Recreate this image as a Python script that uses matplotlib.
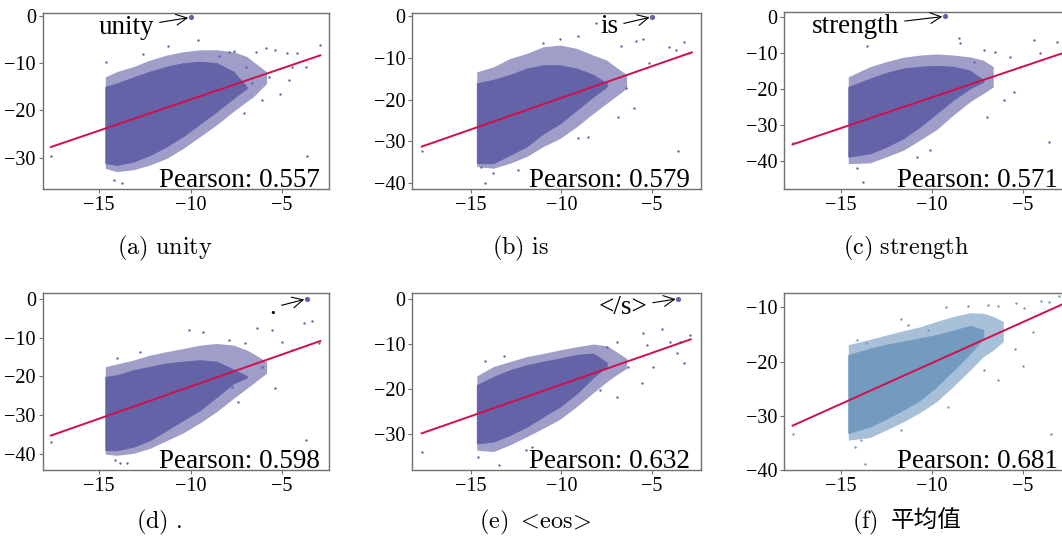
import matplotlib
matplotlib.use('Agg')
import matplotlib.pyplot as plt

plt.rcParams['font.family'] = ['Liberation Serif', 'Noto Sans CJK SC', 'DejaVu Sans']
plt.rcParams['mathtext.fontset'] = 'cm'

# ---------------- data ----------------
labels = ['(a)', '(b)', '(c)', '(d)', '(e)', '(f)']
captions = ['unity', 'is', 'strength', '.', r'<\!eos\!>', '平均值']
tokens = ['unity', 'is', 'strength', '.', '</s>', None]
pearson = [0.557, 0.579, 0.571, 0.598, 0.632, 0.681]

# highlighted token point and annotation text anchor (right end, baseline)
token_xy = [(-9.98, -0.35), (-4.98, -0.24), (-9.28, 0.1), (-3.64, 0.05), (-3.54, 0.07), None]
token_text_xy = [(-11.99, -3.9), (-6.86, -4.2), (-11.79, -4.6), (-5.33, -3.9), (-5.26, -3.3), None]

# regression line end points
line_x = [[-17.63, -2.91], [-17.72, -2.80], [-17.63, -2.85],
          [-17.63, -2.91], [-17.72, -2.86], [-17.63, -2.85]]
line_y = [[-27.7, -8.36], [-31.24, -8.74], [-35.3, -10.1],
          [-35.3, -10.86], [-29.85, -8.96], [-31.82, -9.45]]

# dense core of each cloud
core_x = [
    [-14.66, -14.04, -13.13, -12.22, -11.31, -10.40, -9.48, -8.57, -7.66, -6.93],
    [-14.68, -13.76, -12.84, -11.92, -11.00, -10.08, -9.16, -8.24, -7.50],
    [-14.58, -13.39, -12.48, -11.56, -10.65, -9.74, -8.83, -7.91, -7.18],
    [-14.66, -14.04, -13.13, -12.22, -11.31, -10.40, -9.48, -8.57, -7.66, -6.93],
    [-14.68, -13.76, -12.84, -11.92, -11.00, -10.08, -9.16, -8.24, -7.50],
    [-14.58, -13.39, -12.48, -11.56, -10.65, -9.74, -8.83, -7.91, -7.18],
]
core_top = [
    [-15.0, -14.3, -13.0, -11.8, -10.75, -10.0, -9.7, -10.0, -11.8, -15.0],
    [-16.1, -15.3, -14.1, -12.6, -11.8, -11.8, -12.6, -14.1, -16.1],
    [-19.4, -17.1, -15.5, -14.3, -13.8, -13.6, -13.8, -14.9, -17.5],
    [-20.1, -19.7, -18.4, -17.5, -16.6, -16.2, -15.8, -16.2, -18.2, -19.9],
    [-19.1, -17.3, -15.8, -14.7, -13.9, -13.2, -12.4, -12.1, -14.1],
    [-18.8, -17.6, -16.9, -16.3, -15.7, -15.1, -14.3, -13.4, -14.2],
]
core_bot = [
    [-31.1, -31.5, -30.8, -29.4, -27.6, -25.4, -22.8, -20.2, -17.4, -15.3],
    [-35.2, -35.2, -33.2, -31.2, -28.1, -25.7, -22.5, -19.3, -16.9],
    [-38.7, -37.8, -35.9, -33.6, -30.4, -26.7, -23.0, -19.8, -18.0],
    [-39.1, -39.1, -38.2, -36.5, -33.9, -31.3, -28.7, -25.3, -21.8, -20.3],
    [-32.1, -31.7, -30.2, -28.4, -26.1, -23.9, -21.0, -17.4, -15.0],
    [-33.2, -32.0, -30.5, -28.9, -27.1, -24.6, -21.6, -18.5, -15.7],
]

# sparser halo around each core
halo_x = [
    [-14.66, -14.04, -13.13, -12.22, -11.31, -10.40, -9.48, -8.57, -7.66, -6.93, -6.57, -5.85],
    [-14.68, -13.76, -12.84, -11.92, -11.00, -10.08, -9.16, -8.24, -7.50, -7.13, -6.40],
    [-14.58, -13.39, -12.48, -11.56, -10.65, -9.74, -8.83, -7.91, -7.18, -6.64],
    [-14.66, -14.04, -13.13, -12.22, -11.31, -10.40, -9.48, -8.57, -7.66, -6.93, -6.57, -5.85],
    [-14.68, -13.76, -12.84, -11.92, -11.00, -10.08, -9.16, -8.24, -7.50, -7.13, -6.40],
    [-14.58, -13.39, -12.48, -11.56, -10.65, -9.74, -8.83, -7.91, -7.18, -6.64, -6.09],
]
halo_top = [
    [-12.9, -11.8, -10.75, -9.35, -8.3, -7.6, -7.2, -7.2, -7.6, -8.6, -9.7, -11.8],
    [-13.4, -12.2, -10.2, -9.0, -7.4, -7.0, -7.8, -9.4, -10.6, -11.8, -14.1],
    [-16.6, -13.8, -12.4, -11.2, -10.6, -10.3, -10.6, -11.1, -12.0, -13.8],
    [-17.5, -16.8, -15.8, -14.5, -13.6, -12.8, -11.9, -11.5, -11.9, -13.2, -14.1, -16.2],
    [-17.1, -15.0, -13.9, -12.8, -12.1, -11.3, -10.6, -10.0, -10.4, -11.3, -13.2],
    [-16.9, -15.9, -15.1, -14.3, -13.6, -12.6, -11.7, -11.0, -11.1, -11.7, -12.6],
]
halo_bot = [
    [-32.2, -32.9, -32.5, -31.5, -30.1, -28.0, -25.5, -23.0, -20.2, -18.1, -17.1, -14.3],
    [-36.0, -36.4, -35.2, -33.6, -31.2, -29.3, -26.5, -23.3, -20.9, -19.7, -17.3],
    [-40.6, -40.4, -38.7, -36.9, -34.1, -31.2, -27.2, -23.5, -21.2, -19.4],
    [-40.1, -40.4, -39.9, -38.6, -36.6, -34.6, -32.0, -29.1, -25.7, -23.1, -21.8, -19.2],
    [-33.6, -33.9, -32.4, -30.6, -28.7, -26.7, -23.9, -20.8, -18.4, -17.3, -15.4],
    [-34.5, -34.0, -32.6, -31.1, -29.4, -27.4, -24.6, -21.6, -19.1, -17.9, -16.3],
]

# scattered outlying points
out_x = [
    [-17.63, -14.63, -12.59, -11.26, -9.57, -7.63, -6.45, -5.90, -5.36, -4.72, -4.17, -3.72, -2.93,
     -4.63, -5.12, -6.08, -7.08, -6.63, -6.99, -5.71, -13.75, -14.21, -3.66, -8.45, -7.90, -4.45],
    [-17.73, -14.22, -13.80, -14.46, -12.40, -11.00, -10.09, -9.08, -8.07, -6.72, -5.89, -5.52, -5.16,
     -4.05, -3.68, -3.22, -2.95, -3.59, -5.98, -6.90, -6.44, -7.64, -8.56, -9.11],
    [-17.63, -13.57, -13.75, -14.11, -10.82, -10.09, -8.54, -8.45, -6.99, -6.07, -5.52, -4.43, -4.06,
     -3.61, -3.15, -6.53, -5.71, -5.16, -7.17, -7.72],
    [-17.63, -14.03, -12.75, -14.12, -13.84, -13.48, -10.11, -9.34, -7.92, -7.00, -6.36, -5.54, -4.99,
     -4.45, -3.81, -3.36, -2.96, -3.72, -5.36, -6.08, -7.39, -7.75],
    [-17.73, -14.20, -13.19, -14.60, -13.45, -11.98, -11.61, -7.50, -6.95, -5.29, -5.48, -4.47, -4.01,
     -3.64, -3.23, -2.90, -3.45, -4.93, -5.57, -6.95, -7.87, -6.31],
    [-17.63, -14.09, -13.59, -11.68, -11.31, -10.22, -9.25, -13.64, -14.22, -13.86, -11.68, -9.12,
     -8.02, -6.93, -6.39, -5.38, -4.93, -4.47, -4.02, -3.56, -3.47, -5.02, -5.47, -6.39, -7.12, -3.02],
]
out_y = [
    [-29.6, -9.7, -8.1, -6.3, -5.1, -7.4, -7.6, -6.9, -7.2, -7.9, -7.8, -10.75, -6.2,
     -13.6, -16.5, -17.8, -20.6, -14.3, -10.75, -12.9, -35.3, -34.6, -29.6, -8.6, -7.6, -10.75],
    [-32.4, -40.0, -37.6, -36.0, -36.8, -6.6, -5.6, -4.8, -1.8, -7.2, -6.0, -5.6, -11.4,
     -7.4, -8.2, -6.2, -9.0, -32.4, -22.1, -24.1, -17.3, -17.3, -28.9, -29.3],
    [-35.0, -8.1, -45.6, -41.9, -38.7, -36.9, -6.0, -7.4, -27.6, -23.0, -20.7, -6.5, -10.1,
     -34.6, -6.9, -9.7, -11.1, -13.8, -9.2, -12.4],
    [-36.9, -15.3, -13.6, -41.6, -42.5, -42.5, -8.0, -8.5, -10.6, -11.3, -7.6, -8.0, -11.0,
     -13.2, -6.3, -5.6, -11.3, -36.5, -23.1, -17.5, -26.6, -22.7],
    [-34.1, -13.7, -12.7, -35.0, -36.9, -33.6, -32.8, -10.6, -9.5, -10.2, -7.6, -6.7, -9.5,
     -12.1, -14.3, -8.0, -9.5, -15.0, -18.7, -21.7, -20.2, -15.0],
    [-33.4, -16.0, -16.5, -12.2, -13.3, -14.1, -10.0, -38.9, -35.7, -34.5, -32.6, -28.3,
     -9.8, -9.6, -9.8, -9.3, -10.2, -14.5, -8.8, -9.0, -33.4, -20.9, -17.6, -23.4, -21.6, -8.0],
]

y_ticks = [[0, -10, -20, -30], [0, -10, -20, -30, -40], [0, -10, -20, -30, -40],
           [0, -10, -20, -30, -40], [0, -10, -20, -30], [-10, -20, -30, -40]]
x_ticks = [-15, -10, -5]
x_limits = [(-18.08, -2.42), (-18.24, -2.31), (-18.10, -2.38),
            (-18.08, -2.42), (-18.24, -2.31), (-18.10, -2.38)]
y_limits = [(-36.56, 0.63), (-41.36, 0.72), (-47.7, 1.38),
            (-44.2, 1.47), (-38.0, 1.27), (-40.0, -7.31)]

# ---------------- styling / layout ----------------
W, H = 1062, 537
point_colors = ['#6563a8', '#6563a8', '#6563a8', '#6563a8', '#6563a8', '#739abf']
line_color = '#d0104c'
spine_color = '#707070'

# axes boxes in pixels: left, top, right, bottom
boxes = [(42.7, 12.7, 329.3, 189.0), (412.3, 12.7, 700.7, 189.0), (784.0, 11.7, 1071.0, 189.3),
         (42.7, 293.3, 329.3, 470.0), (412.3, 293.3, 700.7, 470.0), (784.0, 292.7, 1071.0, 470.0)]
pearson_xfrac = [0.9676, 0.963, 0.956, 0.9676, 0.963, 0.956]
caption_pos = [(165, 254), (520.5, 254), (906.3, 254), (159, 528), (535.8, 528), None]

fig = plt.figure(figsize=(W / 100, H / 100), dpi=100)

for i in range(6):
    l, t, r, b = boxes[i]
    ax = fig.add_axes([l / W, 1 - b / H, (r - l) / W, (b - t) / H])
    c = point_colors[i]
    ax.fill_between(halo_x[i], halo_bot[i], halo_top[i], color=c, alpha=0.62, lw=0, zorder=1)
    ax.fill_between(core_x[i], core_bot[i], core_top[i], color=c, lw=0.6, edgecolor=c, zorder=2)
    ax.scatter(out_x[i], out_y[i], s=3.0, color=c, linewidths=0, zorder=3)
    ax.plot(line_x[i], line_y[i], color=line_color, lw=1.4, zorder=4)
    if token_xy[i] is not None:
        ax.scatter([token_xy[i][0]], [token_xy[i][1]], s=14, color=c, linewidths=0, zorder=5)
        ax.annotate(tokens[i], xy=token_xy[i], xytext=token_text_xy[i],
                    ha='right', va='baseline', fontsize=19.5,
                    arrowprops=dict(arrowstyle='->', color='black', lw=0.8))
    ax.text(pearson_xfrac[i], 0.013, 'Pearson: %.3f' % pearson[i], transform=ax.transAxes,
            ha='right', va='baseline', fontsize=19.5)
    ax.set_xlim(*x_limits[i])
    ax.set_ylim(*y_limits[i])
    ax.set_xticks(x_ticks)
    ax.set_yticks(y_ticks[i])
    for s in ax.spines.values():
        s.set_color(spine_color)
        s.set_linewidth(1.0)
    ax.tick_params(colors=spine_color, labelcolor='black', length=3, width=0.8,
                   labelsize=14.5, pad=2)

    if caption_pos[i] is not None:
        x, y = caption_pos[i]
        fig.text(x / W, 1 - y / H, r'$\mathrm{' + labels[i] + r'\ ' + captions[i] + '}$',
                 ha='center', va='baseline', fontsize=17.5)

# caption (f): label in Computer Modern, Chinese text in CJK font
fig.text(878.3 / W, 1 - 528 / H, r'$\mathrm{' + labels[5] + '}$', ha='right', va='baseline', fontsize=17.5)
fig.text(890.7 / W, 1 - 528 / H, captions[5], ha='left', va='baseline', fontsize=17,
         family=['Noto Sans CJK SC', 'DejaVu Sans'])

fig.savefig('out.png', dpi=100)
